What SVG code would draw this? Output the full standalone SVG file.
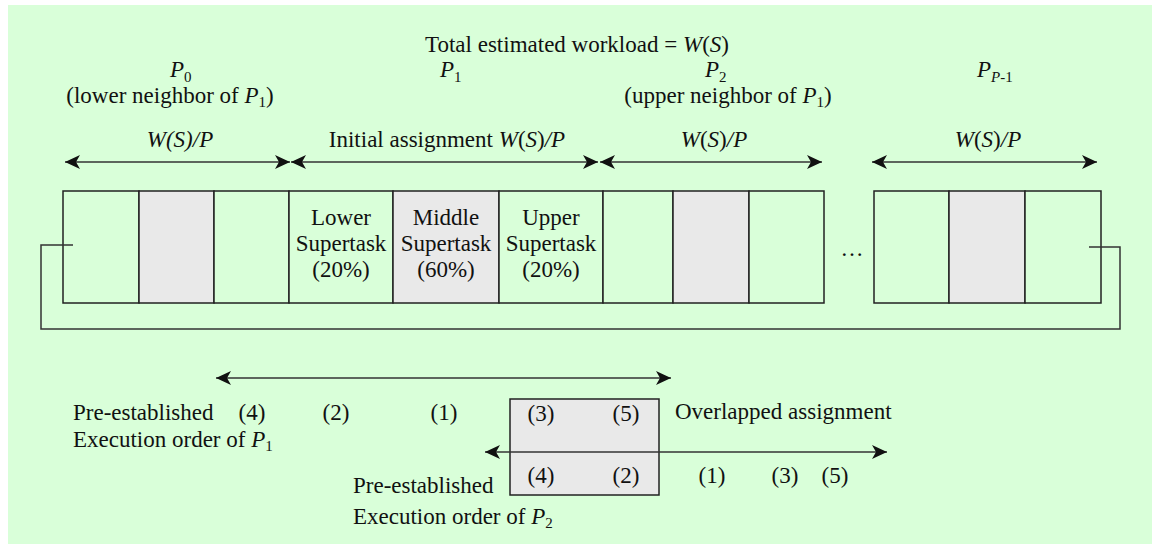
<svg xmlns="http://www.w3.org/2000/svg" width="1152" height="544" viewBox="0 0 1152 544">
<defs>
<marker id="ah" markerUnits="userSpaceOnUse" markerWidth="16" markerHeight="16" viewBox="-15 -8 16 16" refX="0" refY="0" orient="auto-start-reverse">
<path d="M0,0 L-15,-7 L-11,0 L-15,7 Z" fill="#111"/>
</marker>
<style>
text{font-family:"Liberation Serif","Times New Roman",serif;font-size:23px;fill:#111}
.i{font-style:italic}
.sub{font-size:15px}
.c{text-anchor:middle}
.cell{fill:#d9ffd9;stroke:#222;stroke-width:1.5}
.g{fill:#e9e9e9;stroke:#222;stroke-width:1.5}
.ln{fill:none;stroke:#333;stroke-width:1.5}
.ar{fill:none;stroke:#333;stroke-width:1.5;marker-start:url(#ah);marker-end:url(#ah)}
</style>
</defs>
<rect x="8" y="5" width="1144" height="539" fill="#d9ffd9"/>

<g id="labels">
<text x="577" y="52" class="c">Total estimated workload = <tspan class="i">W</tspan>(<tspan class="i">S</tspan>)</text>
<text x="170" y="77" class="i">P<tspan class="sub" dy="5" font-style="normal">0</tspan></text>
<text x="170" y="103" class="c">(lower neighbor of <tspan class="i">P</tspan><tspan class="sub" dy="4">1</tspan><tspan dy="-4">)</tspan></text>
<text x="440" y="77" class="i">P<tspan class="sub" dy="5" font-style="normal">1</tspan></text>
<text x="705" y="77" class="i">P<tspan class="sub" dy="5" font-style="normal">2</tspan></text>
<text x="728" y="103" class="c">(upper neighbor of <tspan class="i">P</tspan><tspan class="sub" dy="4">1</tspan><tspan dy="-4">)</tspan></text>
<text x="977" y="77" class="i">P<tspan class="sub" dy="5">P</tspan><tspan class="sub" font-style="normal">-1</tspan></text>
<text x="180" y="147" class="c i">W(S)/P</text>
<text x="447" y="147" class="c">Initial assignment <tspan class="i">W</tspan>(<tspan class="i">S</tspan>)<tspan class="i">/P</tspan></text>
<text x="714" y="147" class="c"><tspan class="i">W</tspan>(<tspan class="i">S</tspan>)<tspan class="i">/P</tspan></text>
<text x="988" y="147" class="c"><tspan class="i">W</tspan>(<tspan class="i">S</tspan>)<tspan class="i">/P</tspan></text>
</g>

<g id="P0">
<rect class="cell" x="63" y="191" width="76" height="112"/>
<rect class="g" x="139" y="191" width="75" height="112"/>
<rect class="cell" x="214" y="191" width="75" height="112"/>
</g>
<g id="P1">
<rect class="cell" x="289" y="191" width="104" height="112"/>
<rect class="g" x="393" y="191" width="106" height="112"/>
<rect class="cell" x="499" y="191" width="104" height="112"/>
<text x="341" y="225" class="c">Lower</text>
<text x="341" y="251" class="c">Supertask</text>
<text x="341" y="277" class="c">(20%)</text>
<text x="446" y="225" class="c">Middle</text>
<text x="446" y="251" class="c">Supertask</text>
<text x="446" y="277" class="c">(60%)</text>
<text x="551" y="225" class="c">Upper</text>
<text x="551" y="251" class="c">Supertask</text>
<text x="551" y="277" class="c">(20%)</text>
</g>
<g id="P2">
<rect class="cell" x="603" y="191" width="70" height="112"/>
<rect class="g" x="673" y="191" width="76" height="112"/>
<rect class="cell" x="749" y="191" width="75" height="112"/>
</g>
<g id="ellipsis">
<text x="852" y="256" class="c">…</text>
</g>
<g id="PP1">
<rect class="cell" x="874" y="191" width="75" height="112"/>
<rect class="g" x="949" y="191" width="76" height="112"/>
<rect class="cell" x="1025" y="191" width="76" height="112"/>
</g>

<g id="overlap">
<rect class="g" x="510" y="399" width="149" height="96"/>
</g>

<g id="connectors">
<line class="ar" x1="65" y1="162" x2="290" y2="162"/>
<line class="ar" x1="291" y1="162" x2="598" y2="162"/>
<line class="ar" x1="600" y1="162" x2="822" y2="162"/>
<line class="ar" x1="872" y1="162" x2="1097" y2="162"/>
<polyline class="ln" points="73,245 41,245 41,329 1120,329 1120,247 1089,247"/>
<line class="ar" x1="216" y1="378" x2="671" y2="378"/>
<line class="ar" x1="485" y1="452" x2="887" y2="452"/>
</g>

<g id="order1">
<text x="73" y="420">Pre-established</text>
<text x="73" y="447">Execution order of <tspan class="i">P</tspan><tspan class="sub" dy="4">1</tspan></text>
<text x="252" y="420" class="c">(4)</text>
<text x="336" y="420" class="c">(2)</text>
<text x="444" y="420" class="c">(1)</text>
<text x="541" y="421" class="c">(3)</text>
<text x="626" y="421" class="c">(5)</text>
<text x="675" y="419">Overlapped assignment</text>
</g>
<g id="order2">
<text x="541" y="483" class="c">(4)</text>
<text x="626" y="483" class="c">(2)</text>
<text x="712" y="483" class="c">(1)</text>
<text x="785" y="483" class="c">(3)</text>
<text x="835" y="483" class="c">(5)</text>
<text x="353" y="493">Pre-established</text>
<text x="353" y="524">Execution order of <tspan class="i">P</tspan><tspan class="sub" dy="4">2</tspan></text>
</g>
</svg>
